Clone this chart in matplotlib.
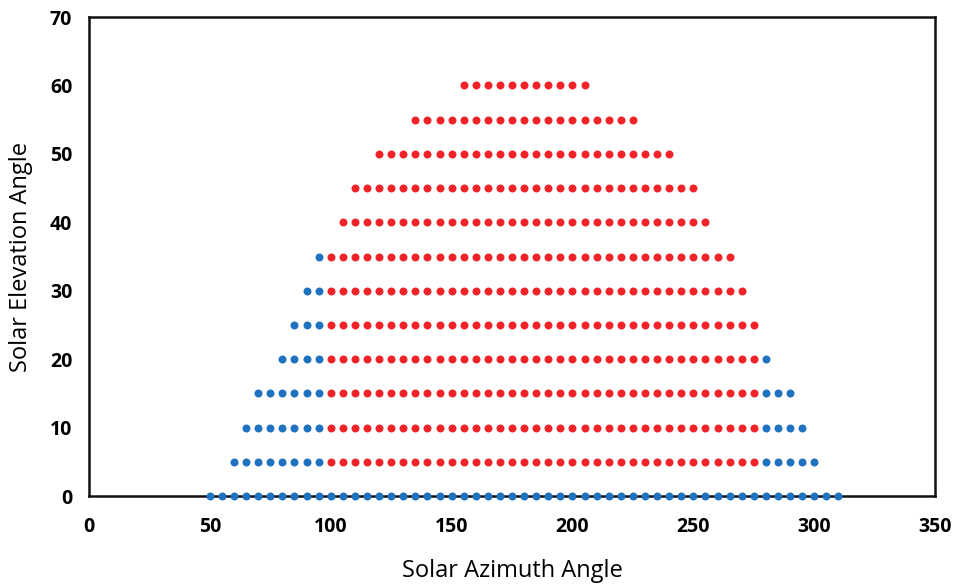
import matplotlib
matplotlib.use("Agg")
import matplotlib.pyplot as plt
import numpy as np

# elevation rows (deg) and azimuth extents, 5 deg spacing
elevations = [0, 5, 10, 15, 20, 25, 30, 35, 40, 45, 50, 55, 60]
blue_left_start = [50, 60, 65, 70, 80, 85, 90, 95, None, None, None, None, None]
blue_left_end = [310, 95, 95, 95, 95, 95, 95, 95, None, None, None, None, None]
red_start = [None, 100, 100, 100, 100, 100, 100, 100, 105, 110, 120, 135, 155]
red_end = [None, 275, 275, 275, 275, 275, 270, 265, 255, 250, 240, 225, 205]
blue_right_start = [None, 280, 280, 280, 280, None, None, None, None, None, None, None, None]
blue_right_end = [None, 300, 295, 290, 280, None, None, None, None, None, None, None, None]
step = 5

BLUE = "#1f72c0"
RED = "#f02428"


def expand(starts, ends):
    xs, ys = [], []
    for el, a, b in zip(elevations, starts, ends):
        if a is None:
            continue
        az = np.arange(a, b + 1, step)
        xs.extend(az)
        ys.extend([el] * len(az))
    return xs, ys


bx1, by1 = expand(blue_left_start, blue_left_end)
bx2, by2 = expand(blue_right_start, blue_right_end)
rx, ry = expand(red_start, red_end)

plt.rcParams["font.family"] = ["Open Sans", "DejaVu Sans"]

fig = plt.figure(figsize=(9.56, 5.87), dpi=100)
ax = fig.add_axes([0.0931, 0.155, 0.885, 0.816])

ax.scatter(bx1 + bx2, by1 + by2, s=33, color=BLUE, linewidths=0, zorder=3, clip_on=False)
ax.scatter(rx, ry, s=33, color=RED, linewidths=0, zorder=3, clip_on=False)

ax.set_xlim(0, 350)
ax.set_ylim(0, 70)
ax.set_xticks(range(0, 351, 50))
ax.set_yticks(range(0, 71, 10))
ax.tick_params(length=0, labelsize=14)
ax.tick_params(axis="x", pad=15)
ax.tick_params(axis="y", pad=12)
for lab in ax.get_xticklabels() + ax.get_yticklabels():
    lab.set_fontweight("bold")

for sp in ax.spines.values():
    sp.set_linewidth(1.8)
    sp.set_color("#111111")
    sp.set_zorder(2)

ax.set_xlabel("Solar Azimuth Angle", fontsize=17, labelpad=16)
ax.set_ylabel("Solar Elevation Angle", fontsize=17, labelpad=12)

fig.savefig("out.png", dpi=100)
